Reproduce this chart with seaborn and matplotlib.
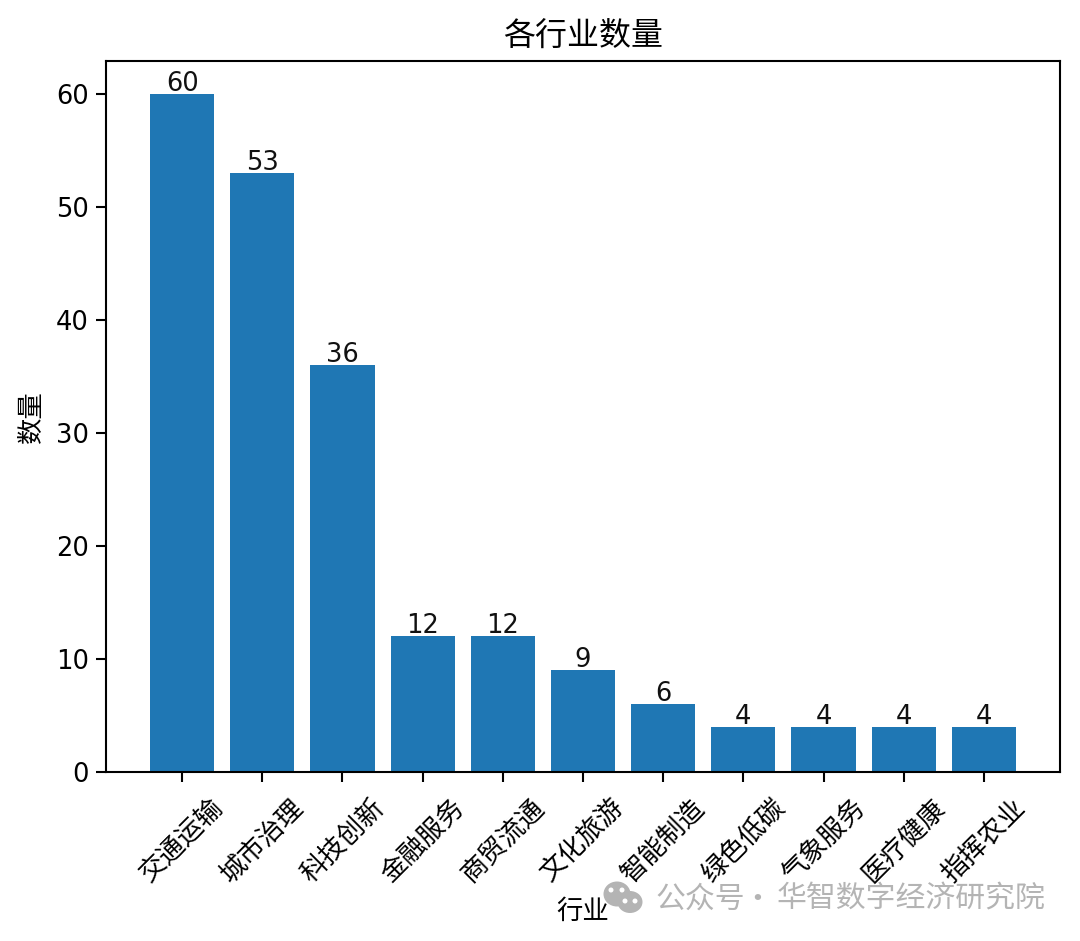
import matplotlib
matplotlib.use("Agg")
import matplotlib.pyplot as plt
from matplotlib.patches import Ellipse
import pandas as pd
import seaborn as sns

industries = ["交通运输", "城市治理", "科技创新", "金融服务", "商贸流通", "文化旅游",
              "智能制造", "绿色低碳", "气象服务", "医疗健康", "指挥农业"]
counts = [60, 53, 36, 12, 12, 9, 6, 4, 4, 4, 4]

sns.set_style("ticks")
plt.rcParams["font.family"] = ["Noto Sans CJK SC", "DejaVu Sans"]
plt.rcParams["text.color"] = "black"
plt.rcParams["axes.labelcolor"] = "black"
plt.rcParams["xtick.color"] = "black"
plt.rcParams["ytick.color"] = "black"

df = pd.DataFrame({"行业": industries, "数量": counts})

fig = plt.figure(figsize=(10.8, 9.41), dpi=100)
ax = fig.add_axes([106 / 1080, 1 - 772 / 941, (1060 - 106) / 1080, (772 - 61) / 941])

sns.barplot(data=df, x="行业", y="数量", color="#1f77b4", saturation=1, width=0.8, linewidth=0, ax=ax)
ax.set_xlim(-0.95, 10.95)
ax.set_ylim(0, 62.9)

# value labels on top of the bars
for i, v in enumerate(counts):
    ax.text(i, v - 0.25, str(v), ha="center", va="bottom", fontsize=18.5, family="DejaVu Sans", color="#111111")

ax.set_title("各行业数量", fontsize=23, pad=11)
ax.set_xlabel("行业", fontsize=19)
ax.xaxis.set_label_coords(0.5, -(898 - 772) / 711)
ax.set_ylabel("数量", fontsize=19, labelpad=8)
ax.tick_params(axis="x", labelsize=19, rotation=45, length=7, width=1.5, pad=9)
ax.tick_params(axis="y", length=7, width=1.5, pad=5.5)
for label in ax.get_yticklabels():
    label.set_fontsize(18.5)
    label.set_family("DejaVu Sans")
for spine in ax.spines.values():
    spine.set_visible(True)
    spine.set_linewidth(1.5)
    spine.set_color("black")


# pixel position -> figure fraction, for the watermark
def fx(px):
    return px / 1080


def fy(py):
    return 1 - py / 941


def add_oval(cx, cy, w, h, color):
    fig.add_artist(Ellipse((fx(cx), fy(cy)), w / 1080, h / 941, facecolor=color,
                           edgecolor="none", transform=fig.transFigure, zorder=6))


# wechat icon of the account watermark
add_oval(617, 894, 27, 25, "#b4b4b4")
add_oval(630, 902, 25, 22, "#b4b4b4")
for cx, cy in [(611, 890), (622, 890), (625, 901), (635, 901)]:
    add_oval(cx, cy, 5, 5, "white")

for px, text, align in [(655, "公众号", "left"), (757, "·", "center"), (1045, "华智数字经济研究院", "right")]:
    fig.text(fx(px), fy(899), text, ha=align, va="center", fontsize=21.5, color="#b4b4b4", zorder=5)

fig.savefig("out.png", dpi=100)
